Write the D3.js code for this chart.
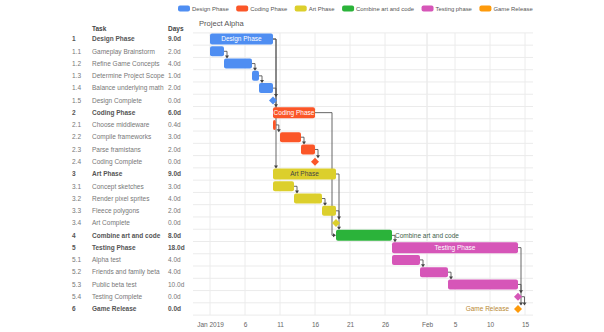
<!DOCTYPE html>
<html>
<head>
<meta charset="utf-8">
<script src="https://cdn.jsdelivr.net/npm/d3@7"></script>
<style>
  html, body { margin: 0; padding: 0; background: #fff; }
  svg { display: block; font-family: "Liberation Sans", Arial, sans-serif; }
</style>
</head>
<body>
<div id="chart"></div>
<script>
// project plan, days counted from 1 Jan 2019
const taskIds = ['1', '1.1', '1.2', '1.3', '1.4', '1.5', '2', '2.1', '2.2', '2.3', '2.4',
    '3', '3.1', '3.2', '3.3', '3.4', '4', '5', '5.1', '5.2', '5.3', '5.4', '6'];
const taskNames = ['Design Phase', 'Gameplay Brainstorm', 'Refine Game Concepts', 'Determine Project Scope',
    'Balance underlying math', 'Design Complete', 'Coding Phase', 'Choose middleware', 'Compile frameworks',
    'Parse framistans', 'Coding Complete', 'Art Phase', 'Concept sketches', 'Render pixel sprites',
    'Fleece polygons', 'Art Complete', 'Combine art and code', 'Testing Phase', 'Alpha test',
    'Friends and family beta', 'Public beta test', 'Testing Complete', 'Game Release'];
const taskStart = [0, 0, 2, 6, 7, 9, 9, 9, 10, 13, 15, 9, 9, 12, 16, 18, 18, 26, 26, 30, 34, 44, 44];
const taskDays = [9, 2, 4, 1, 2, 0, 6, 0.4, 3, 2, 0, 9, 3, 4, 2, 0, 8, 18, 4, 4, 10, 0, 0];
const taskGroup = [0, 0, 0, 0, 0, 0, 1, 1, 1, 1, 1, 2, 2, 2, 2, 2, 3, 4, 4, 4, 4, 4, 5];
const parentRows = ['1', '2', '3', '4', '5', '6'];
const dependencies = [['1', '2'], ['1', '3'], ['1.1', '1.2'], ['1.2', '1.3'], ['1.3', '1.4'], ['1.4', '1.5'],
    ['2.1', '2.2'], ['2.2', '2.3'], ['2.3', '2.4'], ['2', '4'], ['3', '4'],
    ['3.1', '3.2'], ['3.2', '3.3'], ['3.3', '3.4'], ['4', '5'],
    ['5.1', '5.2'], ['5.2', '5.3'], ['5.3', '5.4'], ['5', '6'], ['5.4', '6']];

const groupNames = ['Design Phase', 'Coding Phase', 'Art Phase', 'Combine art and code', 'Testing phase', 'Game Release'];
const groupColors = ['#4f8ef2', '#fb5628', '#dccf2c', '#2bb33a', '#d656b8', '#fd9a0b'];
const groupText = ['#fff', '#fff', '#444', '#3f5f4c', '#fff', '#b98a35'];

const tickDays = [0, 5, 10, 15, 20, 25, 31, 35, 40, 45];
const tickLabels = ['Jan 2019', '6', '11', '16', '21', '26', 'Feb', '5', '10', '15'];

const width = 604, height = 332;
const dayMs = 864e5;
const origin = Date.UTC(2019, 0, 1);
const toDate = d => new Date(origin + d * dayMs);

const svg = d3.select('#chart').append('svg')
    .attr('width', width)
    .attr('height', height);

const plotLeft = 193, plotRight = 533;
const x = d3.scaleUtc()
    .domain([toDate(-17 / 7), toDate(323 / 7)])
    .range([plotLeft, plotRight]);

const y = d3.scaleBand()
    .domain(taskIds)
    .range([32.9, 32.9 + taskIds.length * 12.27]);
const cy = id => y(id) + y.bandwidth() / 2;
const idx = id => taskIds.indexOf(id);

// legend across the top
const legend = svg.append('g').attr('transform', 'translate(178, 8.5)');
let lx = 0;
groupNames.forEach((name, i) => {
    legend.append('rect')
        .attr('x', lx).attr('y', -3)
        .attr('width', 12).attr('height', 6)
        .attr('rx', 2)
        .attr('fill', groupColors[i]);
    const t = legend.append('text')
        .attr('x', lx + 14).attr('dy', '0.35em')
        .attr('font-size', 5.9)
        .attr('fill', '#555')
        .text(name);
    lx += 14 + t.node().getComputedTextLength() + 7.5;
});

svg.append('text')
    .attr('x', 199).attr('y', 26)
    .attr('font-size', 7.6)
    .attr('fill', '#555')
    .text('Project Alpha');

// data grid on the left
const grid = svg.append('g').attr('font-size', 6.5);
grid.append('text').attr('x', 92).attr('y', 31).attr('font-weight', 'bold').attr('fill', '#444').text('Task');
grid.append('text').attr('x', 168).attr('y', 31).attr('font-weight', 'bold').attr('fill', '#444').text('Days');

const rows = grid.selectAll('g.row')
    .data(taskIds)
    .enter()
    .append('g')
    .attr('class', 'row')
    .attr('transform', d => `translate(0, ${cy(d)})`)
    .attr('font-weight', d => parentRows.includes(d) ? 'bold' : 'normal')
    .attr('fill', d => parentRows.includes(d) ? '#555' : '#777');

rows.append('text').attr('x', 72).attr('dy', '0.35em').text(d => d);
rows.append('text').attr('x', 92).attr('dy', '0.35em').text((d, i) => taskNames[i]);
rows.append('text').attr('x', 168).attr('dy', '0.35em').text((d, i) => taskDays[i].toFixed(1) + 'd');

// timeline grid lines
const plot = svg.append('g');
const yTop = y.range()[0], yBottom = y.range()[1];

plot.selectAll('line.vgrid')
    .data(tickDays)
    .enter()
    .append('line')
    .attr('x1', d => x(toDate(d))).attr('x2', d => x(toDate(d)))
    .attr('y1', yTop).attr('y2', yBottom)
    .attr('stroke', (d, i) => tickLabels[i] === 'Feb' ? '#e2e2e2' : '#ececec')
    .attr('stroke-width', 1);

plot.selectAll('line.hgrid')
    .data(taskIds.concat(['end']))
    .enter()
    .append('line')
    .attr('x1', plotLeft).attr('x2', plotRight)
    .attr('y1', (d, i) => yTop + i * y.step()).attr('y2', (d, i) => yTop + i * y.step())
    .attr('stroke', '#ebebeb');

const axis = d3.axisBottom(x)
    .tickValues(tickDays.map(toDate))
    .tickFormat((d, i) => tickLabels[i])
    .tickSize(0)
    .tickPadding(7);

const axisG = svg.append('g')
    .attr('transform', `translate(0, ${yBottom})`)
    .call(axis);
axisG.select('.domain').remove();
axisG.selectAll('text')
    .attr('font-family', '"Liberation Sans", Arial, sans-serif')
    .attr('font-size', 6.5)
    .attr('fill', '#666');

// dependency connectors
const barTop = id => {
    const i = idx(id);
    if (taskDays[i] === 0) return cy(id) - 3.5;
    return cy(id) - (parentRows.includes(id) ? 5.5 : 5);
};
const barEnd = id => {
    const i = idx(id);
    const e = x(toDate(taskStart[i] + taskDays[i]));
    return taskDays[i] === 0 ? e + 3.5 : e;
};

const links = svg.append('g').attr('fill', 'none').attr('stroke', '#555').attr('stroke-width', 0.9);
const heads = svg.append('g').attr('fill', '#444');

dependencies.forEach(([from, to]) => {
    const x1 = barEnd(from), y1 = cy(from);
    const xs = x(toDate(taskStart[idx(to)]));
    if (xs - x1 > 8) {
        links.append('path').attr('d', `M${x1},${y1}H${xs - 4}V${cy(to)}H${xs - 1}`);
        heads.append('path').attr('d', `M${xs},${cy(to)}l-3,-2v4z`);
    } else {
        const xv = x1 + 3;
        const yt = barTop(to);
        links.append('path').attr('d', `M${x1},${y1}H${xv}V${yt - 1}`);
        heads.append('path').attr('d', `M${xv},${yt}l-2,-3h4z`);
    }
});

// bars and milestones
const marks = svg.append('g');
taskIds.forEach((id, i) => {
    const color = groupColors[taskGroup[i]];
    const xs = x(toDate(taskStart[i]));
    if (taskDays[i] === 0) {
        marks.append('path')
            .attr('d', `M${xs},${cy(id) - 4}l4,4l-4,4l-4,-4z`)
            .attr('fill', color);
        return;
    }
    const xe = x(toDate(taskStart[i] + taskDays[i]));
    const isParent = parentRows.includes(id);
    const h = isParent ? 11 : 10;
    marks.append('rect')
        .attr('x', xs).attr('y', cy(id) - h / 2)
        .attr('width', xe - xs).attr('height', h)
        .attr('rx', 2)
        .attr('fill', color);
    if (isParent && id !== '4') {
        marks.append('text')
            .attr('x', (xs + xe) / 2).attr('y', cy(id))
            .attr('dy', '0.35em')
            .attr('text-anchor', 'middle')
            .attr('font-size', 6.5)
            .attr('fill', groupText[taskGroup[i]])
            .text(taskNames[i]);
    }
});

// outside labels
const combine = idx('4');
svg.append('text')
    .attr('x', x(toDate(taskStart[combine] + taskDays[combine])) + 3)
    .attr('y', cy('4')).attr('dy', '0.35em')
    .attr('font-size', 6.5)
    .attr('fill', groupText[3])
    .text(taskNames[combine]);

const release = idx('6');
svg.append('text')
    .attr('x', x(toDate(taskStart[release])) - 9)
    .attr('y', cy('6')).attr('dy', '0.35em')
    .attr('text-anchor', 'end')
    .attr('font-size', 6.5)
    .attr('fill', groupText[5])
    .text(taskNames[release]);
</script>
</body>
</html>
